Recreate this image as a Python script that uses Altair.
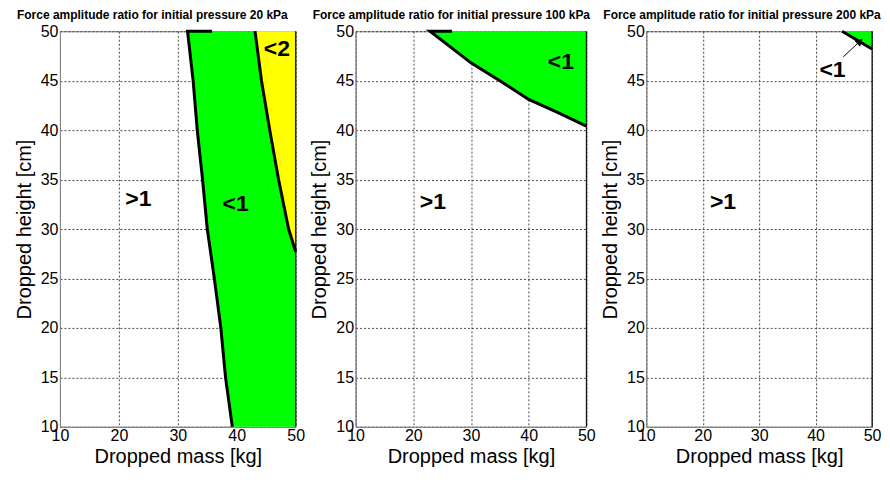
import altair as alt
import pandas as pd

# ---------------- data ----------------
mass_domain = [10, 50]
height_domain = [10, 50]
mass_ticks = [10, 20, 30, 40, 50]
height_ticks = [10, 15, 20, 25, 30, 35, 40, 45, 50]

titles = [
    "Force amplitude ratio for initial pressure 20 kPa",
    "Force amplitude ratio for initial pressure 100 kPa",
    "Force amplitude ratio for initial pressure 200 kPa",
]

# panel 1 (20 kPa): boundary ratio = 1 (left) and ratio = 2 (right)
p1_left_mass = [35.8, 31.65, 32.6, 33.3, 34.2, 35.0, 36.2, 37.3, 38.1, 39.25]
p1_left_height = [50, 50, 45, 40, 35, 30, 25, 20, 15, 10]
p1_yellow_mass = [43.1, 44.2, 45.6, 47.1, 48.8, 50.0]
p1_yellow_height = [50, 45, 40, 35, 30, 27.7]

# panel 2 (100 kPa)
p2_mass = [26.7, 22.9, 30, 35, 40, 45, 50]
p2_height = [50, 50, 46.8, 45.0, 43.1, 41.8, 40.4]

# panel 3 (200 kPa)
p3_mass = [44.7, 50]
p3_height = [50, 48.2]
p3_arrow_mass = [44.9, 48.25]
p3_arrow_height = [47.4, 49.2]
p3_head_mass = [47.7]
p3_head_height = [48.9]

# region labels
p1_label_text = [">1", "<1", "<2"]
p1_label_mass = [23.3, 39.8, 46.8]
p1_label_height = [33.0, 32.5, 48.2]
p2_label_text = [">1", "<1"]
p2_label_mass = [23.4, 45.6]
p2_label_height = [32.7, 46.9]
p3_label_text = [">1", "<1"]
p3_label_mass = [23.6, 43.0]
p3_label_height = [32.7, 46.05]

GREEN = "#00FF00"
YELLOW = "#FFFF00"
FONT = "Liberation Sans"
H = 396

xs = alt.Scale(domain=mass_domain, nice=False, zero=False)
ys = alt.Scale(domain=height_domain, nice=False, zero=False)
xaxis = alt.Axis(values=mass_ticks, format="d")
yaxis = alt.Axis(values=height_ticks, format="d")
XT = "Dropped mass [kg]"
YT = "Dropped height [cm]"


def X(field="mass"):
    return alt.X(f"{field}:Q", scale=xs, axis=xaxis, title=XT)


def Y(field="height"):
    return alt.Y(f"{field}:Q", scale=ys, axis=yaxis, title=YT)


def line_df(m, h):
    return pd.DataFrame({"mass": m, "height": h, "i": list(range(len(m)))})


def boundary(m, h, width=3):
    return alt.Chart(line_df(m, h)).mark_line(color="black", strokeWidth=width).encode(
        x=X(), y=Y(), order="i:Q"
    )


def labels(t, m, h):
    df = pd.DataFrame({"t": t, "mass": m, "height": h})
    return alt.Chart(df).mark_text(
        font=FONT, fontSize=23, fontWeight="bold", color="black",
        align="center", baseline="middle"
    ).encode(x=X(), y=Y(), text="t:N")


def right_edge():
    return alt.Chart(pd.DataFrame({"a": [0]})).mark_rule(color="black", strokeWidth=1).encode(
        x=alt.datum(mass_domain[1], scale=xs, axis=xaxis, title=XT)
    )


def title(t):
    return alt.TitleParams(t, font=FONT, fontSize=12, fontWeight="bold",
                           anchor="start", dx=-43, offset=1, frame="group", color="black")


# ---- panel 1 ----
g1 = pd.DataFrame({"height": p1_left_height[1:], "mass": p1_left_mass[1:],
                   "mass2": [mass_domain[1]] * (len(p1_left_mass) - 1)})
y1 = pd.DataFrame({"height": p1_yellow_height, "mass": p1_yellow_mass,
                   "mass2": [mass_domain[1]] * len(p1_yellow_mass)})
green1 = alt.Chart(g1).mark_area(orient="horizontal", color=GREEN, opacity=1).encode(
    y=Y(), x=X(), x2="mass2:Q")
yellow1 = alt.Chart(y1).mark_area(orient="horizontal", color=YELLOW, opacity=1).encode(
    y=Y(), x=X(), x2="mass2:Q")
panel1 = alt.layer(
    green1, yellow1,
    boundary(p1_left_mass, p1_left_height),
    boundary(p1_yellow_mass, p1_yellow_height),
    right_edge(),
    labels(p1_label_text, p1_label_mass, p1_label_height),
).properties(width=236, height=H, title=title(titles[0]))

# ---- panel 2 ----
g2 = pd.DataFrame({"mass": p2_mass[1:], "height": p2_height[1:],
                   "height2": [height_domain[1]] * (len(p2_mass) - 1)})
green2 = alt.Chart(g2).mark_area(color=GREEN, opacity=1).encode(
    x=X(), y=Y(), y2="height2:Q")
panel2 = alt.layer(
    green2,
    boundary(p2_mass, p2_height),
    right_edge(),
    labels(p2_label_text, p2_label_mass, p2_label_height),
).properties(width=231, height=H, title=title(titles[1]))

# ---- panel 3 ----
g3 = pd.DataFrame({"mass": p3_mass, "height": p3_height,
                   "height2": [height_domain[1]] * len(p3_mass)})
green3 = alt.Chart(g3).mark_area(color=GREEN, opacity=1).encode(
    x=X(), y=Y(), y2="height2:Q")
arrow = boundary(p3_arrow_mass, p3_arrow_height, width=1)
head = alt.Chart(pd.DataFrame({"mass": p3_head_mass, "height": p3_head_height})).mark_point(
    shape="triangle", angle=47, size=70, filled=True, color="black", opacity=1
).encode(x=X(), y=Y())
panel3 = alt.layer(
    green3,
    boundary(p3_mass, p3_height),
    right_edge(),
    arrow, head,
    labels(p3_label_text, p3_label_mass, p3_label_height),
).properties(width=226, height=H, title=title(titles[2]))

chart = alt.hconcat(panel1, panel2, panel3, spacing=3).properties(
    padding={"left": 5, "top": 0, "right": 0, "bottom": 0}
).configure_view(
    stroke="#888888", strokeWidth=1
).configure_axis(
    labelFont=FONT, titleFont=FONT, labelFontSize=16, titleFontSize=20,
    labelColor="black", titleColor="black", titleFontWeight="normal",
    domainColor="#888888", domainWidth=1, ticks=False,
    grid=True, gridColor="#333333", gridDash=[2, 2], gridWidth=1, gridOpacity=0.9,
    labelFlush=False, labelOverlap=False,
).configure_axisX(
    labelPadding=1, titlePadding=3
).configure_axisY(
    labelPadding=2, titlePadding=6
)

chart.save("out.html", embed_options={"renderer": "svg", "actions": False})
